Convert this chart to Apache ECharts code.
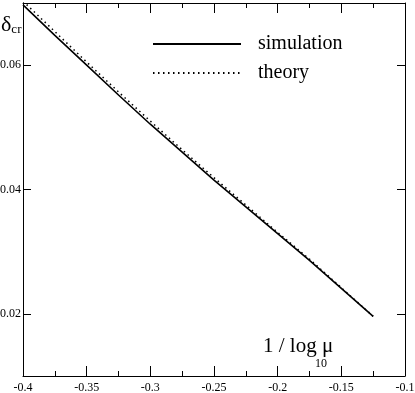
<!DOCTYPE html>
<html>
<head>
<meta charset="utf-8">
<script src="https://cdn.jsdelivr.net/npm/echarts@6/dist/echarts.min.js"></script>
<style>
html,body{margin:0;padding:0;background:#fff;}
#chart{width:415px;height:393px;}
</style>
</head>
<body>
<div id="chart"></div>
<script>
// Data
var xValues = [-0.4, -0.375, -0.35, -0.325, -0.3, -0.275, -0.25, -0.225, -0.2, -0.175, -0.15, -0.125];
var simulation = [0.0697, 0.0648, 0.0600, 0.0552, 0.0505, 0.0460, 0.0415, 0.0372, 0.0329, 0.0286, 0.0241, 0.0196];
var theory = [0.0703, 0.0654, 0.0605, 0.0557, 0.0510, 0.0464, 0.0419, 0.0375, 0.0331, 0.0288, 0.0242, 0.0196];
var yTickValues = [0.02, 0.04, 0.06];
var seriesNames = ['simulation', 'theory'];

function pairs(xs, ys) { return xs.map(function (x, i) { return [x, ys[i]]; }); }

var serif = 'Liberation Serif';
var chart = echarts.init(document.getElementById('chart'), null, {renderer: 'canvas'});
var axisLineStyle = {color: '#000', width: 1};
chart.setOption({
  animation: false,
  backgroundColor: '#fff',
  grid: {left: 23, right: 10, top: 3, bottom: 17, containLabel: false, outerBoundsMode: 'none'},
  legend: {
    orient: 'vertical', left: 152, top: 34, padding: 0, itemWidth: 88, itemHeight: 20, itemGap: 9,
    data: seriesNames,
    itemStyle: {opacity: 0},
    textStyle: {fontFamily: serif, fontSize: 20, color: '#000', padding: [0, 0, 0, 12]}
  },
  xAxis: [{
    type: 'value', min: -0.4, max: -0.1, interval: 0.05, position: 'bottom',
    axisLine: {show: true, onZero: false, lineStyle: axisLineStyle},
    axisTick: {show: true, inside: true, length: 10, lineStyle: axisLineStyle},
    minorTick: {show: true, splitNumber: 2, length: 5, lineStyle: axisLineStyle},
    splitLine: {show: false}, minorSplitLine: {show: false},
    axisLabel: {fontFamily: serif, fontSize: 12, color: '#000', margin: 6}
  }, {
    type: 'value', min: -0.4, max: -0.1, interval: 0.05, position: 'top',
    axisLine: {show: true, onZero: false, lineStyle: axisLineStyle},
    axisTick: {show: true, inside: true, length: 10, lineStyle: axisLineStyle},
    minorTick: {show: true, splitNumber: 2, length: 5, lineStyle: axisLineStyle},
    splitLine: {show: false}, axisLabel: {show: false}
  }],
  yAxis: [{
    type: 'value', min: 0.01, max: 0.07, position: 'left',
    axisLine: {show: true, onZero: false, lineStyle: axisLineStyle},
    axisTick: {show: true, inside: true, length: 8, customValues: yTickValues, lineStyle: axisLineStyle},
    splitLine: {show: false},
    axisLabel: {fontFamily: serif, fontSize: 12, color: '#000', margin: 2, customValues: yTickValues}
  }, {
    type: 'value', min: 0.01, max: 0.07, position: 'right',
    axisLine: {show: true, onZero: false, lineStyle: axisLineStyle},
    axisTick: {show: true, inside: true, length: 8, customValues: yTickValues, lineStyle: axisLineStyle},
    splitLine: {show: false}, axisLabel: {show: false}
  }],
  series: [{
    name: seriesNames[0], type: 'line', data: pairs(xValues, simulation),
    symbol: 'none', clip: true, color: '#000',
    lineStyle: {color: '#000', width: 1.6}
  }, {
    name: seriesNames[1], type: 'line', data: pairs(xValues, theory),
    symbol: 'none', clip: true, color: '#000',
    lineStyle: {color: '#000', width: 1.5, type: [1.5, 3.5]}
  }],
  graphic: [{
    type: 'text', left: 1, top: 14,
    style: {
      text: '{a|δ}{b|cr}',
      rich: {
        a: {fontFamily: serif, fontSize: 22, fill: '#000'},
        b: {fontFamily: serif, fontSize: 13, fill: '#000', verticalAlign: 'bottom', padding: [8, 0, 0, 0]}
      }
    }
  }, {
    type: 'text', left: 263, top: 336,
    style: {text: '1 / log μ', fontFamily: serif, fontSize: 21, fill: '#000'}
  }, {
    type: 'text', left: 315, top: 358,
    style: {text: '10', fontFamily: serif, fontSize: 12, fill: '#000'}
  }]
});
</script>
</body>
</html>
